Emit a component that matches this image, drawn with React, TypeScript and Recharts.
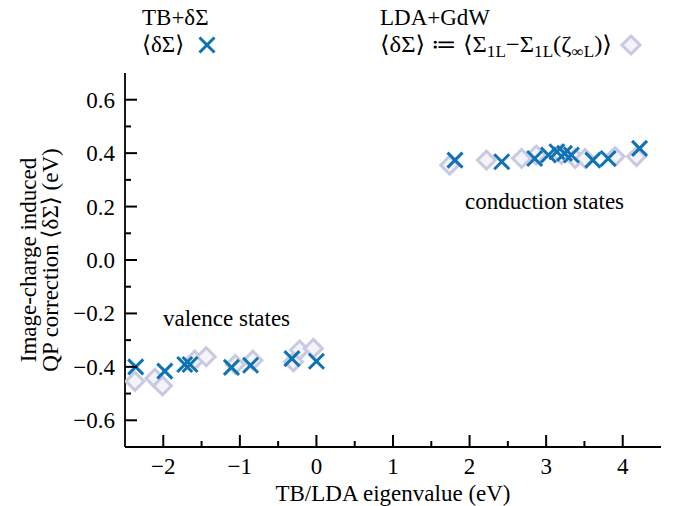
import React from 'react';
import { ScatterChart, Scatter, XAxis, YAxis, Customized } from 'recharts';

// TB+δΣ (crosses)
const tbX = [-2.36, -1.98, -1.72, -1.65, -1.11, -0.86, -0.32, 0.0, 1.81, 2.42, 2.85, 3.03, 3.14, 3.24, 3.33, 3.61, 3.81, 4.22];
const tbY = [-0.400, -0.416, -0.391, -0.391, -0.402, -0.394, -0.369, -0.379, 0.374, 0.368, 0.380, 0.393, 0.405, 0.399, 0.393, 0.374, 0.380, 0.418];

// LDA+GdW (diamonds)
const ldaX = [-2.37, -2.11, -2.01, -1.59, -1.44, -1.06, -0.83, -0.30, -0.22, -0.04, 1.74, 2.22, 2.68, 2.87, 3.20, 3.38, 3.51, 3.90, 4.18];
const ldaY = [-0.454, -0.443, -0.471, -0.375, -0.362, -0.391, -0.375, -0.381, -0.337, -0.331, 0.355, 0.374, 0.380, 0.393, 0.395, 0.380, 0.380, 0.387, 0.387];

const xTicks = [-2, -1.5, -1, -0.5, 0, 0.5, 1, 1.5, 2, 2.5, 3, 3.5, 4];
const xMajor = [-2, -1, 0, 1, 2, 3, 4];
const xLabels = ['\u22122', '\u22121', '0', '1', '2', '3', '4'];
const yTicks = [-0.6, -0.5, -0.4, -0.3, -0.2, -0.1, 0, 0.1, 0.2, 0.3, 0.4, 0.5, 0.6];
const yMajor = [-0.6, -0.4, -0.2, 0, 0.2, 0.4, 0.6];
const yLabels = ['\u22120.6', '\u22120.4', '\u22120.2', '0.0', '0.2', '0.4', '0.6'];

const tbData = tbX.map((x, i) => ({ x, y: tbY[i] }));
const ldaData = ldaX.map((x, i) => ({ x, y: ldaY[i] }));

const FONT = '"Liberation Serif", "DejaVu Serif", serif';
const BLUE = '#0e72b3';
const LAV = '#c9c9e2';
const LAVFILL = '#f3f3f8';
const FS = 23;
const MAJ = 12;
const MIN = 6;
const TW = 2;

const isIn = (arr: number[], v: number) => arr.findIndex((a) => Math.abs(a - Number(v)) < 1e-6);

const Cross = (props: any) => {
  const { cx, cy } = props;
  if (cx == null || cy == null) return null;
  const s = 7.5;
  return (
    <g>
      <line x1={cx - s} y1={cy - s} x2={cx + s} y2={cy + s} stroke={BLUE} strokeWidth={3} />
      <line x1={cx - s} y1={cy + s} x2={cx + s} y2={cy - s} stroke={BLUE} strokeWidth={3} />
    </g>
  );
};

const Diamond = (props: any) => {
  const { cx, cy } = props;
  if (cx == null || cy == null) return null;
  const s = 9;
  return (
    <polygon
      points={`${cx},${cy - s} ${cx + s},${cy} ${cx},${cy + s} ${cx - s},${cy}`}
      fill={LAVFILL}
      stroke={LAV}
      strokeWidth={3}
    />
  );
};

const BottomTick = (props: any) => {
  const x = Number(props.x);
  const y = Number(props.y);
  const mi = isIn(xMajor, props.payload.value);
  const len = mi >= 0 ? MAJ : MIN;
  return (
    <g>
      <path d={`M${x},${y}V${y - len}`} stroke="#000" strokeWidth={TW} fill="none" />
      {mi >= 0 && (
        <text x={x} y={y + 27} textAnchor="middle" fontFamily={FONT} fontSize={FS} fill="#000">
          {xLabels[mi]}
        </text>
      )}
    </g>
  );
};

const TopTick = (props: any) => {
  const x = Number(props.x);
  const y = Number(props.y);
  const len = isIn(xMajor, props.payload.value) >= 0 ? MAJ : MIN;
  return <path d={`M${x},${y}V${y + len}`} stroke="#000" strokeWidth={TW} fill="none" />;
};

const LeftTick = (props: any) => {
  const x = Number(props.x);
  const y = Number(props.y);
  const mi = isIn(yMajor, props.payload.value);
  const len = mi >= 0 ? MAJ : MIN;
  return (
    <g>
      <path d={`M${x},${y}H${x + len}`} stroke="#000" strokeWidth={TW} fill="none" />
      {mi >= 0 && (
        <text x={x - 10} y={y + 8} textAnchor="end" fontFamily={FONT} fontSize={FS} fill="#000">
          {yLabels[mi]}
        </text>
      )}
    </g>
  );
};

const RightTick = (props: any) => {
  const x = Number(props.x);
  const y = Number(props.y);
  const len = isIn(yMajor, props.payload.value) >= 0 ? MAJ : MIN;
  return <path d={`M${x},${y}H${x - len}`} stroke="#000" strokeWidth={TW} fill="none" />;
};

const SUB = { fontSize: 16 } as any;

const Overlay = () => (
  <g fontFamily={FONT} fontSize={FS} fill="#000">
    {/* legend left */}
    <text x={142} y={25}>TB+δΣ</text>
    <text x={142} y={52}>⟨δΣ⟩</text>
    <Cross cx={207} cy={45} />
    {/* legend right */}
    <text x={380} y={25}>LDA+GdW</text>
    <text x={380} y={52} textLength={232} lengthAdjust="spacingAndGlyphs">
      <tspan>⟨δΣ⟩ ≔ ⟨Σ</tspan>
      <tspan dy={5} style={SUB}>1L</tspan>
      <tspan dy={-5}>−Σ</tspan>
      <tspan dy={5} style={SUB}>1L</tspan>
      <tspan dy={-5}>(ζ</tspan>
      <tspan dy={5} style={SUB}>∞L</tspan>
      <tspan dy={-5}>)⟩</tspan>
    </text>
    <Diamond cx={631} cy={45} />
    {/* annotations */}
    <text x={163} y={326}>valence states</text>
    <text x={465} y={209}>conduction states</text>
    {/* axis titles */}
    <text x={393} y={501} textAnchor="middle">TB/LDA eigenvalue (eV)</text>
    <text x={36} y={260} textAnchor="middle" transform="rotate(-90 36 260)">Image-charge induced</text>
    <text x={58} y={260} textAnchor="middle" transform="rotate(-90 58 260)">QP correction ⟨δΣ⟩ (eV)</text>
  </g>
);

export default function App() {
  return (
    <div style={{ position: 'absolute', left: 0, top: 0, background: '#fff' }}>
      <ScatterChart width={679} height={506} margin={{ top: 73, right: 18, bottom: 0, left: 0 }}>
        <XAxis
          dataKey="x"
          type="number"
          domain={[-2.5, 4.5]}
          ticks={xTicks}
          interval={0}
          height={59}
          tickSize={0}
          tickMargin={0}
          axisLine={{ stroke: '#000', strokeWidth: 1.8 }}
          tick={<BottomTick />}
          allowDataOverflow
        />
        <XAxis
          xAxisId="top"
          orientation="top"
          type="number"
          domain={[-2.5, 4.5]}
          ticks={xTicks}
          interval={0}
          height={0}
          tickSize={0}
          tickMargin={0}
          axisLine={{ stroke: '#000', strokeWidth: 1.8 }}
          tick={<TopTick />}
          allowDataOverflow
        />
        <YAxis
          dataKey="y"
          type="number"
          domain={[-0.7, 0.7]}
          ticks={yTicks}
          interval={0}
          width={125}
          tickSize={0}
          tickMargin={0}
          axisLine={{ stroke: '#000', strokeWidth: 1.8 }}
          tick={<LeftTick />}
          allowDataOverflow
        />
        <YAxis
          yAxisId="right"
          orientation="right"
          type="number"
          domain={[-0.7, 0.7]}
          ticks={yTicks}
          interval={0}
          width={0}
          tickSize={0}
          tickMargin={0}
          axisLine={{ stroke: '#000', strokeWidth: 1.8 }}
          tick={<RightTick />}
          allowDataOverflow
        />
        <Scatter data={ldaData} shape={<Diamond />} isAnimationActive={false} />
        <Scatter data={tbData} shape={<Cross />} isAnimationActive={false} />
        <Customized component={<Overlay />} />
      </ScatterChart>
    </div>
  );
}
